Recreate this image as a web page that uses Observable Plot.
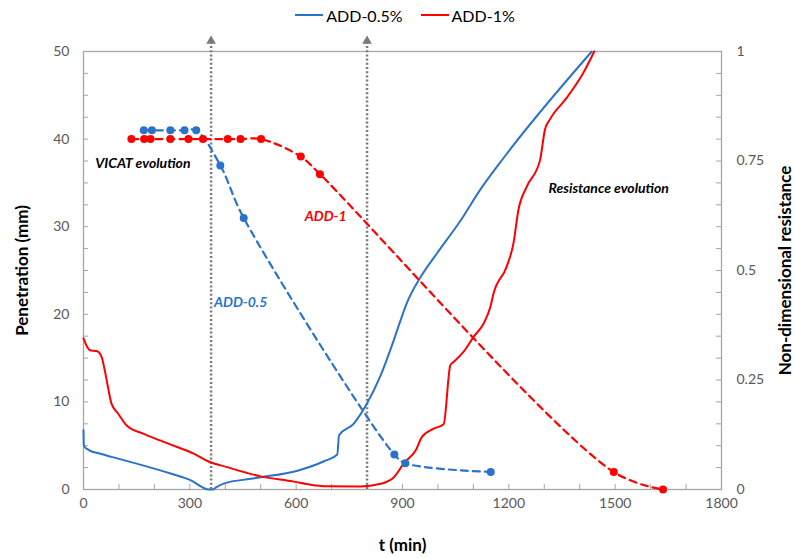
<!DOCTYPE html>
<html><head><meta charset="utf-8">
<script src="https://cdn.jsdelivr.net/npm/d3@7"></script>
<script src="https://cdn.jsdelivr.net/npm/@observablehq/plot@0.6"></script>
<style>
body{margin:0;background:#fff;font-family:Lato,sans-serif;}
#legend{height:30px;display:flex;justify-content:center;align-items:center;gap:18px;font-size:16px;color:#000;padding-left:16px;box-sizing:border-box;width:794px;}
.item{display:flex;align-items:center;}
.sw{width:28px;height:2.5px;margin-right:3px;}
</style></head><body>
<div id="legend"></div>
<div id="chart"></div>
<script>
// ---- data ----
const seriesNames = ["ADD-0.5%", "ADD-1%"];
const seriesColors = ["#2b73c8", "#ff0000"];

// VICAT penetration (mm) vs t (min)
const vicatBlueT = [170,193,245,285,318,386,452,877,908,1149];
const vicatBlueP = [41,41,41,41,41,37,31,4,3,2];
const vicatRedT = [135,171,189,245,296,337,407,443,501,613,667,1496,1635];
const vicatRedP = [40,40,40,40,40,40,40,40,40,38,36,2,0];

// Non-dimensional resistance vs t (min)
const resBlueT = [0,1,15,50,100,219,300,355,365,374,397,450,500,604,680,716,721,762,799,838,875,894,913,951,998,1063,1119,1190,1434];
const resBlueR = [0.135,0.1,0.09,0.081,0.07,0.043,0.022,0,0,0.005,0.014,0.022,0.028,0.043,0.065,0.08,0.124,0.15,0.195,0.26,0.34,0.385,0.427,0.485,0.54,0.613,0.684,0.762,1];
const resRedT = [0,18,37,51,60,69,79,98,122,170,216,264,311,353,405,499,593,640,687,781,838,876,904,937,955,988,1016,1035,1044,1072,1101,1129,1148,1157,1194,1213,1227,1251,1288,1302,1316,1363,1410,1441];
const resRedR = [0.345,0.318,0.316,0.303,0.272,0.234,0.196,0.173,0.146,0.127,0.112,0.097,0.082,0.064,0.051,0.03,0.018,0.011,0.0075,0.007,0.013,0.028,0.06,0.089,0.12,0.139,0.149,0.284,0.291,0.314,0.349,0.379,0.417,0.448,0.509,0.562,0.638,0.692,0.752,0.822,0.845,0.894,0.951,1];

// marker lines (t, min)
const markerTimes = [360, 800];

// ticks
const xTicks = [0,300,600,900,1200,1500,1800];
const xMinorTicks = [100,200,400,500,700,800,1000,1100,1300,1400,1600,1700];
const yLeftTicks = [0,10,20,30,40,50];
const yRightTickValues = [0,0.25,0.5,0.75,1];
const yMinorTicks = [0,2.5,5,7.5,10,12.5,15,17.5,20,22.5,25,27.5,30,32.5,35,37.5,40,42.5,45,47.5,50];

// annotations
const noteBlack = [{t:33,p:37.2,label:"VICAT evolution"},{t:1312,p:34.4,label:"Resistance evolution"}];
const noteRed = [{t:624,p:31.2,label:"ADD-1"}];
const noteBlue = [{t:368,p:21.3,label:"ADD-0.5"}];

// ---- build ----
const RMAX = 50; // right axis 0..1 mapped onto the left 0..50 scale
const vicatBlue = vicatBlueT.map((t,i)=>({t,p:vicatBlueP[i]}));
const vicatRed = vicatRedT.map((t,i)=>({t,p:vicatRedP[i]}));
const resBlue = resBlueT.map((t,i)=>({t,r:resBlueR[i]}));
const resRed = resRedT.map((t,i)=>({t,r:resRedR[i]}));
const yRightTicks = yRightTickValues.map(v=>v*RMAX);

const legend = document.getElementById("legend");
seriesNames.forEach((n,i)=>{
  const it=document.createElement("div");it.className="item";
  const sw=document.createElement("div");sw.className="sw";sw.style.background=seriesColors[i];
  const tx=document.createElement("span");tx.textContent=n;
  it.appendChild(sw);it.appendChild(tx);legend.appendChild(it);
});

const W=794,H=528,mL=83,mR=73,mT=21,mB=69;
const plotW=W-mL-mR, plotH=H-mT-mB;
const axisGray="#a6a6a6", labelGray="#595959", dotGray="#7a7a7a";
const blue=seriesColors[0], red=seriesColors[1];
const noteStyle={x:"t",y:"p",text:"label",textAnchor:"start",lineAnchor:"middle",fontStyle:"italic",fontWeight:"bold",fontSize:14};

const chart = Plot.plot({
  width:W,height:H,marginLeft:mL,marginRight:mR,marginTop:mT,marginBottom:mB,
  style:{fontFamily:"Lato, sans-serif",background:"#fff",overflow:"visible"},
  x:{domain:[0,1800]},
  y:{domain:[0,50]},
  marks:[
    Plot.ruleX(xMinorTicks.concat(xTicks),{stroke:axisGray,insetTop:plotH-5}),
    Plot.ruleY(yMinorTicks,{stroke:axisGray,insetRight:plotW-5}),
    Plot.ruleY(yMinorTicks,{stroke:axisGray,insetLeft:plotW-5}),
    Plot.frame({stroke:axisGray,strokeWidth:1.3}),
    Plot.axisX(xTicks,{tickSize:0,tickPadding:9,fontSize:14,fill:labelGray,label:null,tickFormat:d=>String(d)}),
    Plot.axisY(yLeftTicks,{anchor:"left",tickSize:0,tickPadding:14,fontSize:14,fill:labelGray,label:null,tickFormat:d=>String(d)}),
    Plot.axisY(yRightTicks,{anchor:"right",tickSize:0,tickPadding:15,fontSize:14,fill:labelGray,label:null,tickFormat:d=>String(d/RMAX)}),
    Plot.text(["Penetration (mm)"],{text:d=>d,frameAnchor:"left",dx:-61,rotate:-90,textAnchor:"middle",lineAnchor:"middle",fontWeight:"bold",fontSize:17,fill:"#000"}),
    Plot.text(["Non-dimensional resistance"],{text:d=>d,frameAnchor:"right",dx:64,rotate:-90,textAnchor:"middle",lineAnchor:"middle",fontWeight:"bold",fontSize:17,fill:"#000"}),
    Plot.text(["t (min)"],{text:d=>d,frameAnchor:"bottom",dy:56,textAnchor:"middle",lineAnchor:"middle",fontWeight:"bold",fontSize:17,fill:"#000"}),
    Plot.ruleX(markerTimes,{x:d=>d,y1:0,y2:51,stroke:dotGray,strokeWidth:2.5,strokeDasharray:"2,2.2"}),
    Plot.dot(markerTimes,{x:d=>d,y:51.2,symbol:"triangle",r:3.6,fill:dotGray,stroke:"none"}),
    Plot.line(resBlue,{x:"t",y:d=>d.r*RMAX,stroke:blue,strokeWidth:2,curve:"monotone-x"}),
    Plot.line(resRed,{x:"t",y:d=>d.r*RMAX,stroke:red,strokeWidth:2,curve:"monotone-x"}),
    Plot.line(vicatBlue,{x:"t",y:"p",stroke:blue,strokeWidth:2.2,strokeDasharray:"7,5",curve:"catmull-rom"}),
    Plot.line(vicatRed,{x:"t",y:"p",stroke:red,strokeWidth:2.2,strokeDasharray:"7,5",curve:"catmull-rom"}),
    Plot.dot(vicatBlue,{x:"t",y:"p",r:4,fill:blue,stroke:"none"}),
    Plot.dot(vicatRed,{x:"t",y:"p",r:4,fill:red,stroke:"none"}),
    Plot.text(noteBlack,{...noteStyle,fill:"#000"}),
    Plot.text(noteRed,{...noteStyle,fill:red}),
    Plot.text(noteBlue,{...noteStyle,fill:blue})
  ]
});
document.getElementById("chart").appendChild(chart);
</script>
</body></html>
